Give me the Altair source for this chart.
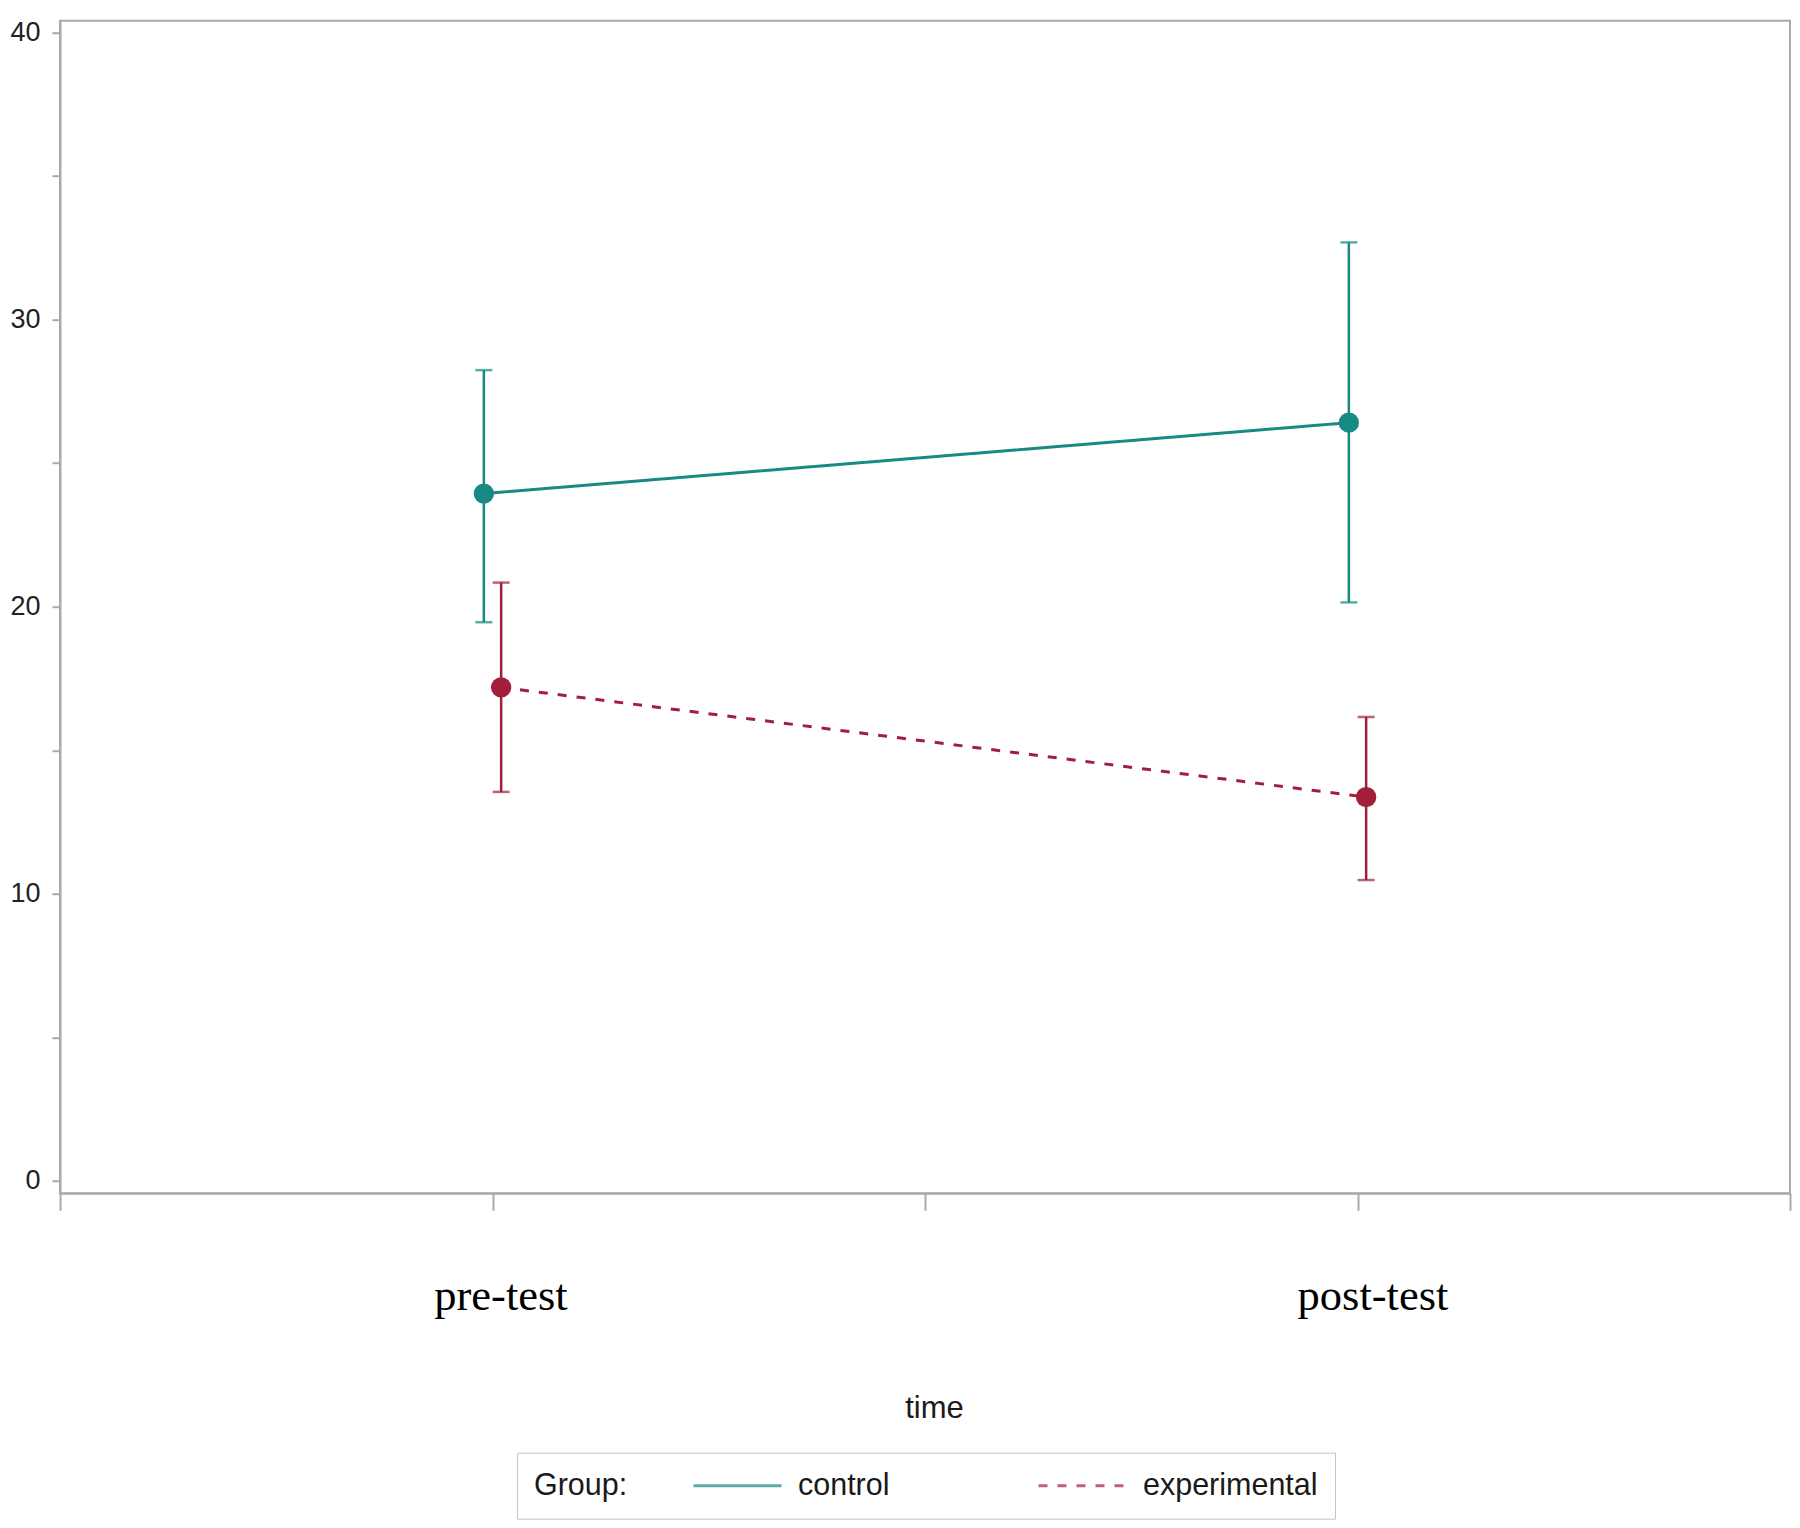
import altair as alt
import pandas as pd

# ---- data ----
groups = ["control", "experimental"]
time_labels = ["pre-test", "post-test"]
time_index = [1, 2]

control_mean = [23.94, 26.41]
control_lower = [19.46, 20.15]
control_upper = [28.24, 32.69]

experimental_mean = [17.19, 13.37]
experimental_lower = [13.55, 10.48]
experimental_upper = [20.84, 16.16]

y_ticks = [0, 5, 10, 15, 20, 25, 30, 35, 40]
x_ticks = [0.5, 1, 1.5, 2, 2.5]

# ---- styling ----
TEAL = "#178a83"
RED = "#a21f3b"
GRAY = "#a9a9a9"
DODGE = 0.01  # horizontal dodge between the two groups (axis units)

rows = []
for g, means, lows, highs in [
    ("control", control_mean, control_lower, control_upper),
    ("experimental", experimental_mean, experimental_lower, experimental_upper),
]:
    for tl, ti, m, lo, hi in zip(time_labels, time_index, means, lows, highs):
        rows.append({"group": g, "time": tl, "t": ti, "mean": m, "lower": lo, "upper": hi})
df = pd.DataFrame(rows)

label_expr = " : ".join(
    f"datum.value == {ti} ? '{tl}'" for ti, tl in zip(time_index, time_labels)
) + " : ''"

x_enc = alt.X(
    "xpos:Q",
    scale=alt.Scale(domain=[0.5, 2.5], nice=False, zero=False),
    axis=alt.Axis(
        values=x_ticks,
        labelExpr=label_expr,
        title="time",
        tickSize=17,
        labelPadding=64,
        labelOffset={"condition": {"test": f"datum.value == {time_index[0]}", "value": 8}, "value": 15},
        labelFont="Liberation Serif",
        labelFontSize=44.5,
        labelColor="#000000",
        labelOverlap=False,
        titleFont="Liberation Sans",
        titleFontSize=31,
        titleFontWeight="normal",
        titleColor="#1a1a1a",
        titleBaseline="alphabetic",
        titleY=224,
        titleX=874,
        titleAlign="center",
    ),
)


def y_enc(field):
    return alt.Y(
        f"{field}:Q",
        scale=alt.Scale(domain=[-0.43, 40.41], nice=False, zero=False),
        axis=alt.Axis(
            values=y_ticks,
            labelExpr="datum.value % 10 == 0 ? datum.label : ''",
            title=None,
            tickSize=8,
            labelPadding=12,
            labelFont="Liberation Sans",
            labelFontSize=27,
            labelColor="#222222",
        ),
    )


color_scale = alt.Scale(domain=groups, range=[TEAL, RED])

legend = alt.Legend(
    title="Group:",
    orient="none",
    legendX=457,
    legendY=1432,
    direction="horizontal",
    titleOrient="left",
    symbolType="stroke",
    symbolSize=7744,
    symbolStrokeWidth=3,
    clipHeight=32,
    labelOffset=15,
    columnPadding=147,
    titlePadding=64,
    padding=17,
    strokeColor="#c4c4c4",
    fillColor="white",
    labelFont="Liberation Sans",
    labelFontSize=30.5,
    labelColor="#1a1a1a",
    titleFont="Liberation Sans",
    titleFontSize=30.5,
    titleFontWeight="normal",
    titleColor="#1a1a1a",
    labelLimit=0,
)

color_enc = alt.Color("group:N", scale=color_scale, title="Group:", legend=legend)

base = alt.Chart(df).transform_calculate(
    xpos=f"datum.t + (datum.group == '{groups[0]}' ? {-DODGE} : {DODGE})"
)

bars = base.mark_errorbar(ticks=True, size=17, thickness=2.5).encode(
    x=x_enc,
    y=y_enc("lower"),
    y2="upper:Q",
    color=color_enc,
)

lines = base.mark_line(strokeWidth=3).encode(
    x=x_enc,
    y=y_enc("mean"),
    color=color_enc,
    strokeDash=alt.StrokeDash(
        "group:N",
        scale=alt.Scale(domain=groups, range=[[1, 0], [9, 10]]),
        title="Group:",
        legend=legend,
    ),
)

points = base.mark_circle(size=415, opacity=1).encode(
    x=x_enc,
    y=y_enc("mean"),
    color=color_enc,
)

chart = (
    alt.layer(bars, lines, points)
    .properties(
        width=1730,
        height=1172.6,
        autosize=alt.AutoSizeParams(type="none"),
        padding={"left": 52, "top": 12.7, "right": 2, "bottom": 327},
    )
    .configure_view(stroke=GRAY, strokeWidth=2)
    .configure_axis(
        domainColor=GRAY,
        domainWidth=2,
        tickColor=GRAY,
        tickWidth=2,
        grid=False,
    )
)

chart.save("out.html", embed_options={"renderer": "svg", "actions": False})
